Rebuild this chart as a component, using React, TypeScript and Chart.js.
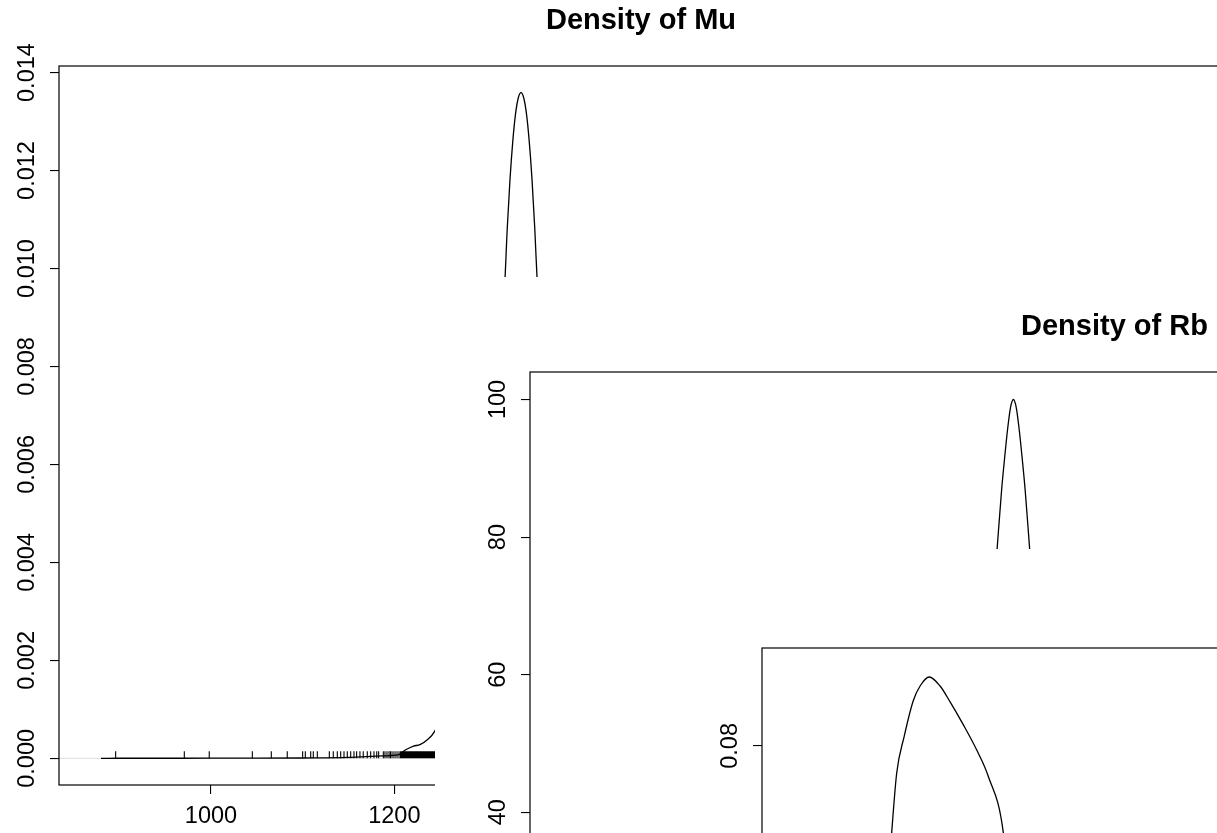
import React, { useEffect, useRef } from 'react';
import { Chart, registerables } from 'chart.js';

Chart.register(...registerables);

const FONT = '"Liberation Sans", Arial, Helvetica, sans-serif';
const TICK_FONT_SIZE = 23.5;
const TITLE_FONT_SIZE = 29;

// ---------- Panel 1: Density of Mu ----------
const MU_TITLE = 'Density of Mu';
const MU_X = [880, 900, 950, 1000, 1050, 1100, 1150, 1188, 1204, 1212, 1221, 1228, 1236, 1244, 1260, 1280, 1300, 1311,
  1320.2, 1323.2, 1326.2, 1329.2, 1332.2, 1335.2, 1338.2, 1341.2, 1344.2, 1347.2, 1350.2, 1353.2, 1356.2,
  1365, 1380, 1400, 1430, 1470, 1520, 1600, 1700, 1800, 1900, 2025];
const MU_DENSITY = [0, 0.000002, 0.000002, 0.000003, 0.000003, 0.000008, 0.00002, 0.00005, 0.00007, 0.00017, 0.00025, 0.00028, 0.00038, 0.00055, 0.0013, 0.0032, 0.0058, 0.0079,
  0.0096, 0.01082, 0.01182, 0.01259, 0.01315, 0.01348, 0.01359, 0.01348, 0.01315, 0.01259, 0.01182, 0.01082, 0.0096,
  0.0066, 0.0028, 0.0007, 0.00012, 0.00003, 0.00001, 0, 0, 0, 0, 0];
const MU_RUG = [896, 970.9, 998.1, 1045.1, 1065.8, 1083.2, 1100.0, 1102.9, 1108.8, 1111.6, 1116.0, 1129.1, 1133.4, 1137.8, 1141.5,
  1145.1, 1148.7, 1152.4, 1156.0, 1158.9, 1162.5, 1166.1, 1170.5, 1174.2, 1177.8, 1180.8, 1182.9, 1188.0, 1189.8, 1192.0, 1194.2,
  1195.8, 1197.5, 1199.6, 1201.8, 1204.0, 1206.2, 1207.3, 1208.4, 1209.5, 1210.6, 1211.6, 1212.7, 1213.8, 1214.9, 1216.0, 1217.1,
  1218.2, 1219.3, 1220.4, 1221.5, 1222.5, 1223.6, 1224.7, 1225.8, 1226.9, 1228.0, 1229.1, 1230.2, 1231.3, 1232.4, 1233.5, 1234.5,
  1235.6, 1236.7, 1237.8, 1238.9, 1240.0, 1241.1, 1242.2, 1243.3, 1244.4, 1245.5, 1246.6];
const MU_X_TICKS = [1000, 1200, 1400, 1600, 1800, 2000];
const MU_X_TICK_LABELS = ['1000', '1200', '1400', '1600', '1800', '2000'];
const MU_Y_TICKS = [0, 0.002, 0.004, 0.006, 0.008, 0.01, 0.012, 0.014];
const MU_Y_TICK_LABELS = ['0.000', '0.002', '0.004', '0.006', '0.008', '0.010', '0.012', '0.014'];
const MU_X_RANGE = [834.2, 2104];

// ---------- Panel 2: Density of Rb ----------
const RB_TITLE = 'Density of Rb';
const RB_X = [0.3727, 0.3757, 0.3782, 0.3797, 0.3802, 0.3807, 0.3812, 0.3817, 0.3822, 0.3827,
  0.3832, 0.3837, 0.3842, 0.3847, 0.3852, 0.3857, 0.3872, 0.3897, 0.3927];
const RB_DENSITY = [0, 15, 50, 75.5, 81.5, 87, 91.5, 95.6, 98.8, 100.0,
  98.8, 95.6, 91.5, 87, 81.5, 75.5, 50, 15, 0];
const RB_X_TICKS = [0.35, 0.4, 0.45];
const RB_X_TICK_LABELS = ['0.35', '0.40', '0.45'];
const RB_Y_TICKS = [0, 20, 40, 60, 80, 100];
const RB_Y_TICK_LABELS = ['0', '20', '40', '60', '80', '100'];
const RB_X_RANGE = [0.3, 0.5];

// ---------- Panel 3 (title off-screen) ----------
const P3_X = [6.9, 7.21, 7.49, 7.9, 8.41, 8.79, 9.3, 9.9, 10.45, 11.19, 11.94, 12.58, 13.42, 13.8];
const P3_DENSITY = [0.06, 0.0694, 0.0767, 0.0811, 0.0855, 0.0873, 0.0884, 0.0873, 0.0854, 0.0826, 0.0795, 0.0763, 0.0694, 0.06];
const P3_X_TICKS = [10, 20, 30, 40, 50, 60];
const P3_X_TICK_LABELS = ['10', '20', '30', '40', '50', '60'];
const P3_Y_TICKS = [0, 0.02, 0.04, 0.06, 0.08];
const P3_Y_TICK_LABELS = ['0.00', '0.02', '0.04', '0.06', '0.08'];
const P3_X_RANGE = [0, 65];

type Area = { left: number; top: number; right: number; bottom: number };
type PanelSpec = {
  id: string;
  left: number; top: number; width: number; height: number;
  area: Area;
  title?: string;
  xs: number[]; ys: number[];
  xRange: number[];
  xTicks: number[]; xTickLabels: string[];
  yTicks: number[]; yTickLabels: string[];
  rug?: number[];
};

const PANELS: PanelSpec[] = [
  {
    id: 'mu', left: 0, top: 0, width: 1240, height: 850,
    area: { left: 59, top: 66, right: 1223, bottom: 785 },
    title: MU_TITLE, xs: MU_X, ys: MU_DENSITY, xRange: MU_X_RANGE,
    xTicks: MU_X_TICKS, xTickLabels: MU_X_TICK_LABELS, yTicks: MU_Y_TICKS, yTickLabels: MU_Y_TICK_LABELS,
    rug: MU_RUG,
  },
  {
    id: 'rb', left: 435, top: 277, width: 1282, height: 903,
    area: { left: 95, top: 95, right: 1264, bottom: 838 },
    title: RB_TITLE, xs: RB_X, ys: RB_DENSITY, xRange: RB_X_RANGE,
    xTicks: RB_X_TICKS, xTickLabels: RB_X_TICK_LABELS, yTicks: RB_Y_TICKS, yTickLabels: RB_Y_TICK_LABELS,
  },
  {
    id: 'p3', left: 668, top: 549, width: 1280, height: 947,
    area: { left: 94, top: 99, right: 1263, bottom: 882 },
    xs: P3_X, ys: P3_DENSITY, xRange: P3_X_RANGE,
    xTicks: P3_X_TICKS, xTickLabels: P3_X_TICK_LABELS, yTicks: P3_Y_TICKS, yTickLabels: P3_Y_TICK_LABELS,
  },
];

function Panel({ spec }: { spec: PanelSpec }) {
  const ref = useRef<HTMLCanvasElement | null>(null);

  useEffect(() => {
    const canvas = ref.current;
    if (!canvas) return;
    const { area, width, height } = spec;
    const maxD = Math.max(...spec.ys);
    const yMin = -0.04 * maxD;
    const yMax = 1.04 * maxD;
    const titleLine = TITLE_FONT_SIZE * 1.2;
    const titleGap = 28;

    const zeroLine = {
      id: 'zeroLine',
      beforeDatasetsDraw(chart: any) {
        const { ctx, chartArea } = chart;
        const y0 = chart.scales.y.getPixelForValue(0);
        ctx.save();
        ctx.strokeStyle = '#c8c8c8';
        ctx.lineWidth = 0.6;
        ctx.beginPath();
        ctx.moveTo(chartArea.left, y0);
        ctx.lineTo(chartArea.right, y0);
        ctx.stroke();
        ctx.restore();
      },
    };

    const rugPlugin = {
      id: 'rug',
      afterDatasetsDraw(chart: any) {
        if (!spec.rug) return;
        const { ctx, chartArea } = chart;
        const xs = chart.scales.x;
        const y0 = chart.scales.y.getPixelForValue(0);
        ctx.save();
        ctx.strokeStyle = '#000';
        ctx.lineWidth = 1.1;
        ctx.beginPath();
        spec.rug.forEach((v) => {
          const px = xs.getPixelForValue(v);
          if (px < chartArea.left || px > chartArea.right) return;
          ctx.moveTo(px, y0);
          ctx.lineTo(px, y0 - 7);
        });
        ctx.stroke();
        ctx.restore();
      },
    };

    const boxPlugin = {
      id: 'box',
      afterDraw(chart: any) {
        const { ctx, chartArea } = chart;
        ctx.save();
        ctx.strokeStyle = '#000';
        ctx.lineWidth = 1.2;
        ctx.strokeRect(chartArea.left, chartArea.top, chartArea.right - chartArea.left, chartArea.bottom - chartArea.top);
        const ys = chart.scales.y;
        ctx.fillStyle = '#000';
        ctx.font = `${TICK_FONT_SIZE}px ${FONT}`;
        ctx.textAlign = 'center';
        ctx.textBaseline = 'alphabetic';
        spec.yTicks.forEach((v, i) => {
          const py = ys.getPixelForValue(v);
          ctx.save();
          ctx.translate(chartArea.left - 25, py);
          ctx.rotate(-Math.PI / 2);
          ctx.fillText(spec.yTickLabels[i], 0, 0);
          ctx.restore();
        });
        ctx.restore();
      },
    };

    const chart = new Chart(canvas, {
      type: 'line',
      data: {
        datasets: [
          {
            data: spec.xs.map((x, i) => ({ x, y: spec.ys[i] })),
            borderColor: '#000',
            borderWidth: 1.3,
            pointRadius: 0,
            fill: false,
            cubicInterpolationMode: 'monotone',
          },
        ],
      },
      options: {
        animation: false,
        responsive: false,
        maintainAspectRatio: false,
        events: [],
        layout: {
          autoPadding: false,
          padding: { left: 0, right: width - area.right, top: spec.title ? 0 : area.top, bottom: 0 },
        },
        plugins: {
          legend: { display: false },
          tooltip: { enabled: false },
          title: spec.title
            ? {
                display: true,
                text: spec.title,
                fullSize: false,
                color: '#000',
                font: { family: FONT, size: TITLE_FONT_SIZE, weight: 'bold', lineHeight: 1.2 },
                padding: { top: area.top - titleGap - titleLine, bottom: titleGap },
              }
            : { display: false },
        },
        scales: {
          x: {
            type: 'linear',
            min: spec.xRange[0],
            max: spec.xRange[1],
            border: { display: false },
            grid: { drawOnChartArea: false, drawTicks: true, tickLength: 9, color: '#000', lineWidth: 1.1 },
            ticks: {
              color: '#000',
              font: { family: FONT, size: TICK_FONT_SIZE },
              padding: 8,
              autoSkip: false,
              maxRotation: 0,
              minRotation: 0,
              callback: (value: any) => {
                const idx = spec.xTicks.findIndex((t) => Math.abs(t - Number(value)) < 1e-9);
                return idx >= 0 ? spec.xTickLabels[idx] : '';
              },
            },
            afterBuildTicks: (s: any) => {
              s.ticks = spec.xTicks.map((v) => ({ value: v }));
            },
            afterFit: (s: any) => {
              s.height = height - area.bottom;
              s.paddingLeft = 0;
              s.paddingRight = 0;
            },
          },
          y: {
            type: 'linear',
            min: yMin,
            max: yMax,
            border: { display: false },
            grid: { drawOnChartArea: false, drawTicks: true, tickLength: 9, color: '#000', lineWidth: 1.1 },
            ticks: { display: false },
            afterBuildTicks: (s: any) => {
              s.ticks = spec.yTicks.map((v) => ({ value: v }));
            },
            afterFit: (s: any) => {
              s.width = area.left;
            },
          },
        },
      } as any,
      plugins: [zeroLine, rugPlugin, boxPlugin],
    });

    return () => chart.destroy();
  }, [spec]);

  return (
    <canvas
      ref={ref}
      width={spec.width}
      height={spec.height}
      style={{
        position: 'absolute',
        left: spec.left,
        top: spec.top,
        width: spec.width,
        height: spec.height,
        background: '#fff',
        display: 'block',
      }}
    />
  );
}

export default function App() {
  return (
    <div
      style={{
        position: 'fixed',
        left: 0,
        top: 0,
        width: 1217,
        height: 833,
        overflow: 'hidden',
        background: '#fff',
      }}
    >
      {PANELS.map((p) => (
        <Panel key={p.id} spec={p} />
      ))}
    </div>
  );
}
